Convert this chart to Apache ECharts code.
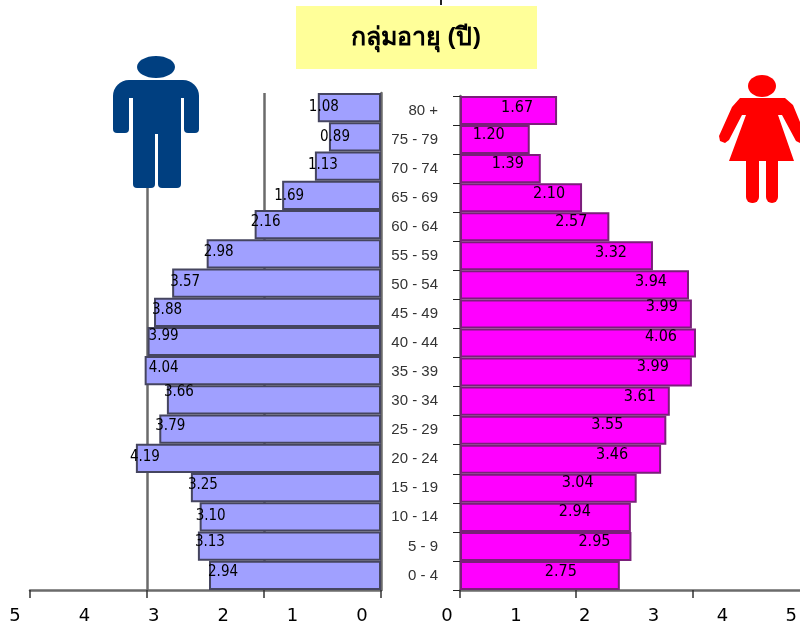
<!DOCTYPE html>
<html>
<head>
<meta charset="utf-8">
<style>
  html, body { margin: 0; padding: 0; background: #fff; }
  #chart { width: 800px; height: 627px; }
</style>
<script src="https://cdn.jsdelivr.net/npm/echarts@6/dist/echarts.min.js"></script>
</head>
<body>
<div id="chart"></div>
<script>
const titleText = 'กลุ่มอายุ (ปี)'
const ageGroups = ['80 +', '75 - 79', '70 - 74', '65 - 69', '60 - 64', '55 - 59', '50 - 54', '45 - 49', '40 - 44',
  '35 - 39', '30 - 34', '25 - 29', '20 - 24', '15 - 19', '10 - 14', '5 - 9', '0 - 4']
const maleValues = [1.08, 0.89, 1.13, 1.69, 2.16, 2.98, 3.57, 3.88, 3.99, 4.04, 3.66, 3.79, 4.19, 3.25, 3.10, 3.13, 2.94]
const femaleValues = [1.67, 1.20, 1.39, 2.10, 2.57, 3.32, 3.94, 3.99, 4.06, 3.99, 3.61, 3.55, 3.46, 3.04, 2.94, 2.95, 2.75]

// the printed 0-5 scale is not the one the bars use, it sits on top of the real 0-6 axis
const printedTicks = [0, 1, 2, 3, 4, 5]
const realTicks = [0, 2, 4]

// hand nudges for the value labels, the original has them scattered around
const maleLabelShift = [[-14, -1], [-14, 0], [-12, -1], [-13, 1], [-9, -2], [-8, -2], [-7, -1], [-7, -2], [-4, -5],
  [-1, -3], [-8, -8], [-9, -3], [-11, -1], [-8, -3], [-9, -1], [-8, -4], [-6, -3]]
const femaleLabelShift = [[-19, -3], [-20, -5], [-12, -5], [-12, -4], [-17, -5], [-21, -3], [-17, -3], [-9, -7], [-14, -6],
  [-18, -5], [-9, -4], [-38, -5], [-28, -4], [-38, -5], [-35, -6], [-16, -5], [-38, -4]]

const chart = echarts.init(document.getElementById('chart'))

const axisGrey = '#6b6b6b'
const labelFont = '"DejaVu Sans Condensed", "DejaVu Sans"'

const valueLabels = (values, shifts, position, size) => values.map((value, i) => ({
  value,
  label: { show: true, position, offset: shifts[i], color: '#000', fontFamily: labelFont, fontSize: size, formatter: value.toFixed(2) }
}))

const printedAxis = (gridIndex, inverse) => ({
  type: 'value',
  gridIndex,
  inverse,
  min: 0,
  max: 5,
  interval: 1,
  axisLine: { show: false },
  axisTick: { show: false },
  splitLine: { show: false },
  axisLabel: {
    margin: 16,
    color: '#000',
    fontFamily: 'DejaVu Sans',
    fontSize: 18,
    hideOverlap: false,
    formatter: (v) => (printedTicks.includes(v) ? String(v) : '')
  }
})

// the two pictograms
const iconRect = (x, y, width, height, r, fill) => ({ type: 'rect', z: 10, shape: { x, y, width, height, r }, style: { fill } })
const iconPoly = (points, fill) => ({ type: 'polygon', z: 10, shape: { points }, style: { fill } })
const iconHead = (cx, cy, rx, ry, fill) => ({ type: 'ellipse', z: 10, shape: { cx, cy, rx, ry }, style: { fill } })

const manBlue = '#003f80'
const manIcon = [
  iconHead(156, 67, 19, 11, manBlue),
  iconRect(113, 80, 86, 18, [16, 16, 0, 0], manBlue),
  iconRect(113, 96, 16, 37, [0, 0, 4, 4], manBlue),
  iconRect(184, 96, 15, 37, [0, 0, 4, 4], manBlue),
  iconRect(133, 90, 48, 44, 0, manBlue),
  iconRect(133, 130, 22, 58, [0, 0, 4, 4], manBlue),
  iconRect(158, 130, 23, 58, [0, 0, 4, 4], manBlue)
]
const womanRed = '#ff0000'
const womanIcon = [
  iconHead(762, 86, 14, 11, womanRed),
  iconPoly([[740, 98], [785, 98], [793, 105], [800, 122], [800, 143], [796, 141], [782, 115], [778, 115], [794, 161],
    [729, 161], [746, 115], [742, 115], [729, 140], [725, 143], [720, 141], [719, 136], [732, 107]], womanRed),
  iconRect(746, 155, 13, 48, [0, 0, 6, 6], womanRed),
  iconRect(766, 155, 12, 48, [0, 0, 6, 6], womanRed)
]

chart.setOption({
  animation: false,
  backgroundColor: '#fff',
  grid: [
    { left: 30, width: 351, top: 93, height: 497 },
    { left: 460, right: 0, top: 96, height: 494 },
    { left: 15, width: 347, top: 590, height: 1 },
    { left: 447, width: 346, top: 590, height: 1 }
  ],
  xAxis: [
    {
      type: 'value',
      gridIndex: 0,
      inverse: true,
      min: 0,
      max: 6,
      interval: 2,
      axisLine: { show: true, onZero: false, lineStyle: { color: axisGrey, width: 2.5 } },
      axisTick: { show: true, length: 8, lineStyle: { color: '#333', width: 1.5 } },
      axisLabel: { show: false },
      splitLine: { show: true, showMinLine: false, showMaxLine: false, lineStyle: { color: axisGrey, width: 2.5 } }
    },
    {
      type: 'value',
      gridIndex: 1,
      min: 0,
      max: 5.85,
      axisLine: { show: true, onZero: false, lineStyle: { color: axisGrey, width: 2.5 } },
      axisTick: { show: true, length: 8, customValues: realTicks, lineStyle: { color: '#333', width: 1.5 } },
      axisLabel: { show: false },
      splitLine: { show: false }
    },
    printedAxis(2, true),
    printedAxis(3, false)
  ],
  yAxis: [
    {
      type: 'category',
      gridIndex: 0,
      position: 'right',
      inverse: true,
      data: ageGroups,
      axisLine: { show: true, onZero: false, lineStyle: { color: axisGrey, width: 2.5 } },
      axisTick: { show: false },
      axisLabel: { show: false }
    },
    {
      type: 'category',
      gridIndex: 1,
      inverse: true,
      data: ageGroups,
      axisLine: { show: true, onZero: false, lineStyle: { color: axisGrey, width: 2.5 } },
      axisTick: { show: true, length: 7, lineStyle: { color: '#222', width: 1 } },
      axisLabel: { margin: 22, interval: 0, color: '#333', fontFamily: 'Liberation Sans', fontSize: 15 }
    },
    { type: 'value', gridIndex: 2, show: false },
    { type: 'value', gridIndex: 3, show: false }
  ],
  series: [
    {
      name: 'male',
      type: 'bar',
      xAxisIndex: 0,
      yAxisIndex: 0,
      barCategoryGap: 0,
      data: valueLabels(maleValues, maleLabelShift, 'insideLeft', 15),
      itemStyle: { color: '#a0a0ff', borderColor: '#45455f', borderWidth: 2 }
    },
    {
      name: 'female',
      type: 'bar',
      xAxisIndex: 1,
      yAxisIndex: 1,
      barCategoryGap: 0,
      data: valueLabels(femaleValues, femaleLabelShift, 'insideRight', 16),
      itemStyle: { color: '#ff00ff', borderColor: '#7a1f7a', borderWidth: 2 }
    }
  ],
  graphic: [
    { type: 'rect', z: 10, shape: { x: 296, y: 6, width: 241, height: 63 }, style: { fill: '#ffff99' } },
    { type: 'rect', z: 10, shape: { x: 440, y: 0, width: 2, height: 5 }, style: { fill: '#222' } },
    {
      type: 'text',
      z: 11,
      x: 416,
      y: 38,
      style: {
        text: titleText,
        fill: '#000',
        font: 'bold 25px "Noto Sans", "DejaVu Sans", sans-serif',
        align: 'center',
        verticalAlign: 'middle'
      }
    },
    ...manIcon,
    ...womanIcon
  ]
})
</script>
</body>
</html>
